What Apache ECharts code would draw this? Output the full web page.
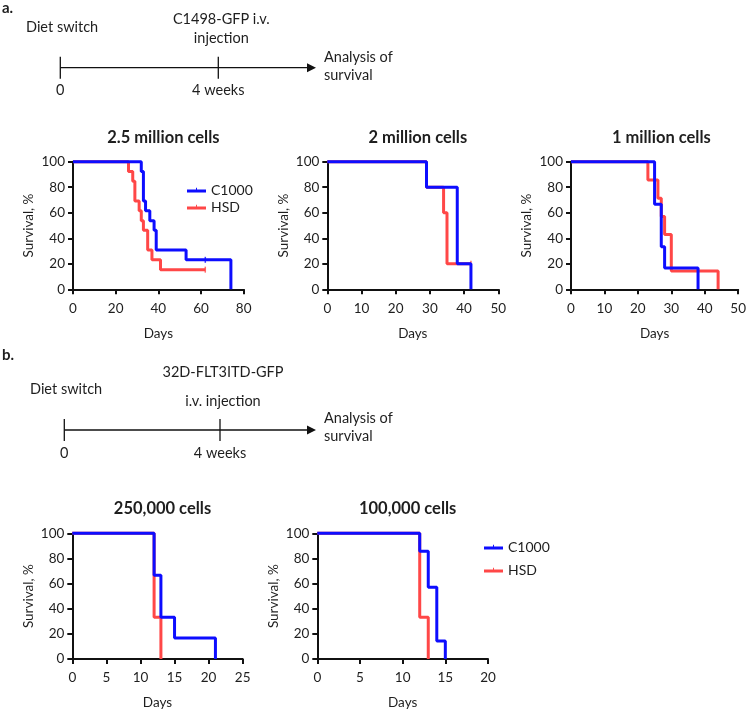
<!DOCTYPE html>
<html><head><meta charset="utf-8">
<script src="https://cdn.jsdelivr.net/npm/echarts@6/dist/echarts.min.js"></script>
<style>html,body{margin:0;padding:0;background:#fff}#c{width:749px;height:711px}</style>
</head><body><div id="c"></div>
<script>
// ---- Data (Kaplan-Meier steps: day, survival %) ----
const p1Title = "2.5 million cells";
const p1_C1000_days = [0, 32, 33, 34, 36, 38, 39, 53, 74];
const p1_C1000_surv = [100, 92.3, 69.2, 61.5, 53.8, 46.2, 30.8, 23.1, 0];
const p1_C1000_censor = [[62, 23.1]];
const p1_HSD_days = [0, 26, 28, 29, 31, 32, 33, 35, 37, 41, 62];
const p1_HSD_surv = [100, 92.3, 84.6, 69.2, 61.5, 53.8, 46.2, 30.8, 23.1, 15.4, 15.4];
const p1_HSD_censor = [[62, 15.4]];
const p1_xTicks = [0, 20, 40, 60, 80];

const p2Title = "2 million cells";
const p2_C1000_days = [0, 29, 38, 42];
const p2_C1000_surv = [100, 80, 20, 0];
const p2_HSD_days = [0, 29, 34, 35, 42];
const p2_HSD_surv = [100, 80, 60, 20, 20];
const p2_HSD_censor = [[42, 20]];
const p2_xTicks = [0, 10, 20, 30, 40, 50];

const p3Title = "1 million cells";
const p3_C1000_days = [0, 25, 27, 28, 38];
const p3_C1000_surv = [100, 66.7, 33.3, 16.7, 0];
const p3_HSD_days = [0, 23, 26, 27, 28, 30, 44];
const p3_HSD_surv = [100, 85.7, 71.4, 57.1, 42.9, 14.3, 0];
const p3_xTicks = [0, 10, 20, 30, 40, 50];

const p4Title = "250,000 cells";
const p4_C1000_days = [0, 12, 13, 15, 21];
const p4_C1000_surv = [100, 66.7, 33.3, 16.7, 0];
const p4_HSD_days = [0, 12, 13];
const p4_HSD_surv = [100, 33.3, 0];
const p4_xTicks = [0, 5, 10, 15, 20, 25];

const p5Title = "100,000 cells";
const p5_C1000_days = [0, 12, 13, 14, 15];
const p5_C1000_surv = [100, 85.7, 57.1, 14.3, 0];
const p5_HSD_days = [0, 12, 13];
const p5_HSD_surv = [100, 33.3, 0];
const p5_xTicks = [0, 5, 10, 15, 20];

const yTicks = [0, 20, 40, 60, 80, 100];
const groups = ["C1000", "HSD"];

// ---- Layout ----
const FONT = "Lato";
const BLUE = "#0d0dff";
const RED = "#ff4747";
const TXT = "#1e1e1e";
const panels = [
  {title: p1Title, left: 73, top: 161.7, width: 170.7, xt: p1_xTicks,
   c: [p1_C1000_days, p1_C1000_surv, p1_C1000_censor], h: [p1_HSD_days, p1_HSD_surv, p1_HSD_censor]},
  {title: p2Title, left: 327.3, top: 161.7, width: 171, xt: p2_xTicks,
   c: [p2_C1000_days, p2_C1000_surv, []], h: [p2_HSD_days, p2_HSD_surv, p2_HSD_censor]},
  {title: p3Title, left: 571, top: 161.7, width: 170.7, xt: p3_xTicks,
   c: [p3_C1000_days, p3_C1000_surv, []], h: [p3_HSD_days, p3_HSD_surv, []]},
  {title: p4Title, left: 72.3, top: 533.3, width: 170.4, xt: p4_xTicks,
   c: [p4_C1000_days, p4_C1000_surv, []], h: [p4_HSD_days, p4_HSD_surv, []]},
  {title: p5Title, left: 317.3, top: 533.3, width: 170.7, xt: p5_xTicks,
   c: [p5_C1000_days, p5_C1000_surv, []], h: [p5_HSD_days, p5_HSD_surv, []]}
];
const PH = 127.6;

const grid = [], xAxis = [], yAxis = [], series = [], title = [];
const zip = (a, b) => a.map((d, i) => [d, b[i]]);
panels.forEach((p, i) => {
  grid.push({left: p.left, top: p.top, width: p.width, height: PH, containLabel: false});
  const axisCommon = {
    axisLine: {show: true, lineStyle: {color: "#111", width: 2}},
    axisTick: {show: true, length: 5, lineStyle: {color: "#111", width: 2}},
    axisLabel: {color: TXT, fontFamily: FONT, fontSize: 13.5},
    splitLine: {show: false}
  };
  const xt = p.xt;
  xAxis.push(Object.assign({}, axisCommon, {
    type: "value", gridIndex: i, min: xt[0], max: xt[xt.length - 1],
    interval: xt[1] - xt[0],
    axisLabel: Object.assign({}, axisCommon.axisLabel, {margin: 12}),
    name: "Days", nameLocation: "middle", nameGap: 37,
    nameTextStyle: {color: TXT, fontFamily: FONT, fontSize: 13.5}
  }));
  yAxis.push(Object.assign({}, axisCommon, {
    type: "value", gridIndex: i, min: yTicks[0], max: yTicks[yTicks.length - 1],
    interval: yTicks[1] - yTicks[0],
    axisLabel: Object.assign({}, axisCommon.axisLabel, {margin: 8}),
    name: "Survival, %", nameLocation: "middle", nameGap: 37, nameRotate: 90,
    nameTextStyle: {color: TXT, fontFamily: FONT, fontSize: 13.5}
  }));
  title.push({text: p.title, left: p.left + p.width / 2, top: p.top - 38, textAlign: "center",
    textStyle: {fontFamily: FONT, fontWeight: "bold", fontSize: 16.5, color: TXT}});
  [["HSD", p.h, RED], ["C1000", p.c, BLUE]].forEach(([name, d, col]) => {
    series.push({
      name: name, type: "line", step: "end", xAxisIndex: i, yAxisIndex: i,
      data: zip(d[0], d[1]), symbol: "none", showSymbol: false,
      lineStyle: {color: col, width: 3}, itemStyle: {color: col}, animation: false, clip: false
    });
    if (d[2].length) {
      series.push({
        name: name, type: "scatter", xAxisIndex: i, yAxisIndex: i, data: d[2],
        symbol: "rect", symbolSize: [1.5, 6], itemStyle: {color: col}, animation: false
      });
    }
  });
});

const legIcon = "path://M0,4 L20,4 L20,7 L0,7 Z M9.5,2 L10.5,2 L10.5,4 L9.5,4 Z";
const legendBase = {
  data: groups, orient: "vertical", icon: legIcon, itemWidth: 19, itemHeight: 5,
  textStyle: {fontFamily: FONT, fontSize: 14, color: TXT}, selectedMode: false
};

// ---- Timeline graphics ----
function timeline(y0, lbl, topLines, diet, anaY) {
  const els = [];
  const x0 = diet.x0, x4 = diet.x4;
  els.push({type: "line", shape: {x1: x0, y1: y0, x2: 309, y2: y0}, style: {stroke: "#111", lineWidth: 1.3}});
  els.push({type: "polygon", shape: {points: [[307, y0 - 4.5], [316, y0], [307, y0 + 4.5]]}, style: {fill: "#111"}});
  els.push({type: "line", shape: {x1: x0, y1: y0 - 11, x2: x0, y2: y0 + 11}, style: {stroke: "#111", lineWidth: 1.3}});
  els.push({type: "line", shape: {x1: x4, y1: y0 - 11, x2: x4, y2: y0 + 11}, style: {stroke: "#111", lineWidth: 1.3}});
  const t = (text, x, y, align, bold) => ({type: "text", x: x, y: y,
    style: {text: text, fill: TXT, font: (bold ? "bold 15px " : "14.5px ") + FONT, textAlign: align, textVerticalAlign: "middle"}});
  els.push(t(lbl, 2, diet.labY, "left", true));
  els.push(t("Diet switch", diet.dx, diet.dy, "left"));
  topLines.forEach((s, k) => els.push(t(s[0], x4 + 3, s[1], "center")));
  els.push(t("0", x0, y0 + 23, "center"));
  els.push(t("4 weeks", x4, y0 + 23, "center"));
  els.push(t("Analysis of", 324, anaY, "left"));
  els.push(t("survival", 324, anaY + 18, "left"));
  return els;
}
const graphic = [].concat(
  timeline(67.7, "a.", [["C1498-GFP i.v.", 19], ["injection", 38]], {x0: 60.3, x4: 218.3, labY: 8, dx: 26, dy: 27}, 57),
  timeline(430, "b.", [["32D-FLT3ITD-GFP", 372], ["i.v. injection", 401]], {x0: 64.3, x4: 220, labY: 355, dx: 30, dy: 389}, 418)
);

const chart = echarts.init(document.getElementById("c"), null, {renderer: "canvas"});
chart.setOption({
  animation: false,
  title: title,
  grid: grid, xAxis: xAxis, yAxis: yAxis, series: series,
  legend: [
    Object.assign({}, legendBase, {left: 182, top: 178, itemGap: 3}),
    Object.assign({}, legendBase, {left: 479, top: 535, itemGap: 9})
  ],
  graphic: graphic
});
</script></body></html>
